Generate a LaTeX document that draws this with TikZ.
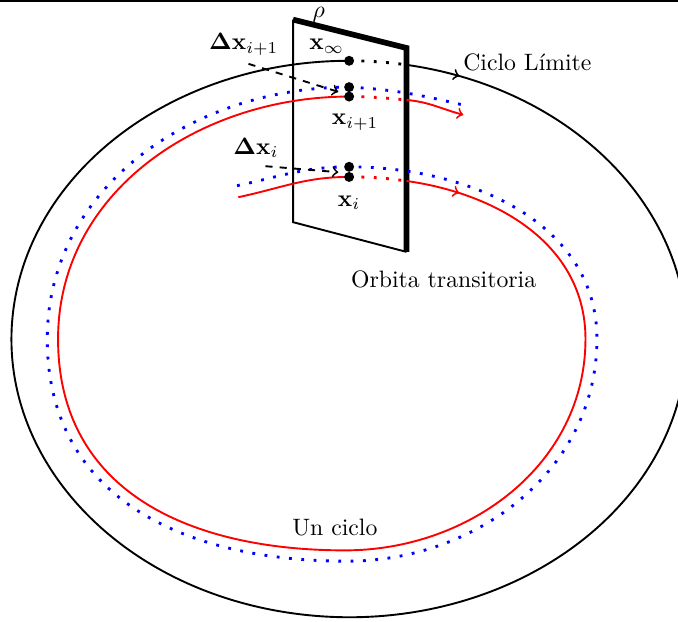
\documentclass[tikz,border=0pt]{standalone}
\usepackage{amsmath,amssymb}
\usepackage{tikz}
\usetikzlibrary{positioning,decorations.markings}

\begin{document}
\begin{tikzpicture}[
  lim/.style={thick},
  tra/.style={thick,red},
  ciclo/.style={very thick,blue,loosely dotted},
  oculto/.style={very thick,loosely dotted},
  pto/.style={circle,fill,inner sep=0pt,minimum size=4.2pt},
  flecha/.style={thick,dashed,->},
  medio/.style={postaction={decorate},
    decoration={markings,mark=at position #1 with {\arrow{>}}}}]
\useasboundingbox (-5.17,-4.18) rectangle (4.87,5.02);
\clip (-5.17,-4.18) rectangle (4.87,5.02);
\draw[thick] (-5.17,5.0) -- (4.87,5.0);
% puntos sobre la seccion
\coordinate (q0) at (0,4.12);
\coordinate (qb1) at (0,3.73);
\coordinate (qr1) at (0,3.59);
\coordinate (qb) at (0,2.55);
\coordinate (qr) at (0,2.40);
% plano
\coordinate (p1) at (-0.83,4.73);
\coordinate (p2) at (0.85,4.31);
\coordinate (p3) at (0.85,1.29);
\coordinate (p4) at (-0.83,1.73);
\draw[thick] (p1) -- (p4) -- (p3);
\draw[line width=2.4pt] (p1) -- (p2) -- (p3);
\node (rho) at (-0.45,4.80) {$\rho$};
% ciclo limite
\draw[lim,medio=0.8cm] (80.2:5 and 4.12) arc[start angle=80.2,end angle=-270,x radius=5,y radius=4.12];
\draw[oculto] (q0) arc[start angle=90,end angle=80.2,x radius=5,y radius=4.12];
% un ciclo
\draw[ciclo] (-1.66,2.27) to[out=12,in=180] (qb) to[out=0,in=90] (3.67,0)
  to[out=-90,in=0] (-0.03,-3.29) to[out=180,in=-90,looseness=1.1] (-4.47,0)
  to[out=90,in=180] (qb1) to[out=-3,in=167] (1.67,3.47);
% orbita transitoria
\draw[tra] (-1.64,2.10) to[out=12,in=180] (qr);
\draw[tra,oculto] (qr) to[out=0,in=172] (0.85,2.34);
\draw[tra,medio=0.8cm] (0.85,2.34) to[out=-8,in=90] (3.50,0)
  to[out=-90,in=0] (-0.06,-3.13) to[out=180,in=-90,looseness=1.1] (-4.31,0)
  to[out=90,in=180] (qr1);
\draw[tra,oculto] (qr1) to[out=0,in=175] (0.85,3.54);
\draw[tra,->] (0.85,3.54) to[out=-5,in=165] (1.69,3.32);
% puntos
\node[pto] (xinf) at (q0) {};
\node[pto] (xb1) at (qb1) {};
\node[pto] (xr1) at (qr1) {};
\node[pto] (xb) at (qb) {};
\node[pto] (xr) at (qr) {};
\node[above left=-2pt and -3pt of xinf] (linf) {$\mathbf{x}_\infty$};
\node[below=1.5pt of xr1,xshift=2.5pt] (lr1) {$\mathbf{x}_{i+1}$};
\node[below=2pt of xr] (lr) {$\mathbf{x}_i$};
\node (dx1) at (-1.56,4.36) {$\mathbf{\Delta x}_{i+1}$};
\node (dx) at (-1.38,2.83) {$\mathbf{\Delta x}_i$};
\coordinate (t1) at (-0.16,3.66);
\coordinate (t0) at (-0.16,2.47);
\draw[flecha] ([xshift=2pt]dx1.south) -- (t1);
\draw[flecha] ([xshift=4pt]dx.south) -- (t0);
% textos
\node (lc) at (2.64,4.09) {Ciclo Límite};
\node (ot) at (1.40,0.89) {Orbita transitoria};
\node (uc) at (-0.21,-2.79) {Un ciclo};
\end{tikzpicture}
\end{document}
